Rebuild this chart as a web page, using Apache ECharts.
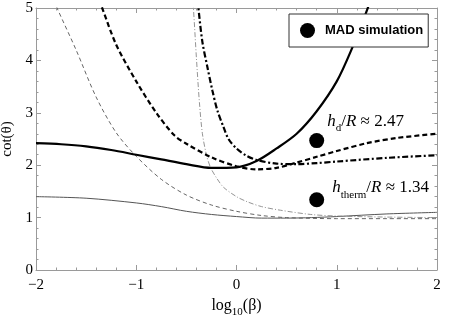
<!DOCTYPE html>
<html><head><meta charset="utf-8">
<script src="https://cdn.jsdelivr.net/npm/echarts@6/dist/echarts.min.js"></script>
<style>html,body{margin:0;padding:0;background:#fff}#c{width:463px;height:316px}</style>
</head><body><div id="c"></div>
<script>
// ---- data ----
const thickSolidX = [-2, -1.75, -1.5, -1.25, -1, -0.75, -0.5, -0.25, 0, 0.2, 0.4, 0.6, 0.8, 1.0, 1.15, 1.3, 1.4];
const thickSolidY = [2.42, 2.40, 2.36, 2.29, 2.20, 2.11, 2.02, 1.95, 1.96, 2.08, 2.32, 2.60, 3.03, 3.60, 4.22, 4.95, 5.5];

const thinSolidX = [-2, -1.5, -1, -0.75, -0.5, -0.25, 0, 0.25, 0.5, 0.75, 1, 1.5, 2];
const thinSolidY = [1.40, 1.37, 1.28, 1.21, 1.12, 1.06, 1.02, 0.99, 0.99, 1.0, 1.02, 1.07, 1.10];

const thickDashX = [-1.4, -1.34, -1.2, -1.0, -0.8, -0.62, -0.5, -0.25, 0, 0.2, 0.4, 0.6, 0.8, 1.0, 1.3, 1.6, 2];
const thickDashY = [5.3, 5.0, 4.3, 3.6, 3.0, 2.57, 2.41, 2.15, 1.98, 1.92, 1.95, 2.05, 2.16, 2.27, 2.42, 2.52, 2.6];

const thickDashDotX = [-0.4, -0.38, -0.34, -0.29, -0.24, -0.19, -0.13, -0.08, 0, 0.1, 0.2, 0.4, 0.6, 0.8, 1.0, 1.5, 2];
const thickDashDotY = [5.4, 5.0, 4.35, 3.87, 3.42, 3.04, 2.73, 2.50, 2.32, 2.18, 2.10, 2.03, 2.02, 2.04, 2.07, 2.14, 2.19];

const thinDashX = [-1.82, -1.79, -1.6, -1.4, -1.2, -1.0, -0.75, -0.5, -0.25, 0, 0.25, 0.5, 1.0, 1.5, 2];
const thinDashY = [5.15, 5.0, 4.2, 3.3, 2.62, 2.17, 1.73, 1.43, 1.24, 1.12, 1.04, 1.0, 0.98, 0.98, 0.98];

const thinDashDotX = [-0.445, -0.43, -0.40, -0.37, -0.34, -0.30, -0.26, -0.2, -0.13, 0, 0.11, 0.25, 0.44, 0.74, 1.0, 1.5, 2];
const thinDashDotY = [5.3, 5.0, 4.05, 3.2, 2.6, 2.2, 1.96, 1.76, 1.58, 1.40, 1.30, 1.21, 1.14, 1.06, 1.03, 1.01, 1.0];

const madX = [0.8, 0.8];
const madY = [2.47, 1.34];
const madLabels = ['d', 'therm'];
const legendName = 'MAD simulation';

// ---- chart ----
const zip = (xs, ys) => xs.map((x, i) => [x, ys[i]]);
const frame = '#9a9a9a';
const serif = 'Liberation Serif';
const minus = v => String(v).replace('-', '\u2212');

function mkAxis(pos, isX, showLabel, extra) {
  return Object.assign({
    type: 'value', position: pos,
    min: isX ? -2 : 0, max: isX ? 2 : 5, interval: 1,
    axisLine: { show: true, onZero: false, lineStyle: { color: frame, width: 1 } },
    axisTick: { show: true, inside: true, length: 5, lineStyle: { color: frame } },
    minorTick: { show: true, splitNumber: 5, length: 2.5, lineStyle: { color: frame } },
    splitLine: { show: false },
    axisLabel: { show: showLabel, color: '#000', fontFamily: serif, fontSize: 15, margin: isX ? 8 : 3, formatter: minus }
  }, extra || {});
}

function lineSeries(xs, ys, color, width, dash) {
  return {
    type: 'line', data: zip(xs, ys), showSymbol: false, symbol: 'none',
    smooth: 0.3, clip: true, silent: true,
    lineStyle: { color: color, width: width, type: dash || 'solid' },
    z: 3
  };
}

const labelRich = {
  i: { fontFamily: serif, fontStyle: 'italic', fontSize: 17, color: '#000', verticalAlign: 'top' },
  n: { fontFamily: serif, fontSize: 17, color: '#000', verticalAlign: 'top' },
  s: { fontFamily: serif, fontSize: 11, color: '#000', verticalAlign: 'top', padding: [10, 0, 0, 0] }
};

const madData = madX.map((x, i) => ({
  value: [x, madY[i]],
  label: {
    show: true, position: 'right',
    offset: i === 0 ? [-2, -17] : [3, -10],
    formatter: '{i|h}{s|' + madLabels[i] + '}{n|/}{i|R}{n| \u2248 ' + madY[i].toFixed(2) + '}',
    rich: labelRich
  }
}));

const option = {
  animation: false,
  backgroundColor: '#fff',
  grid: { left: 36, right: 26, top: 8, bottom: 46, containLabel: false, outerBoundsMode: 'none' },
  xAxis: [
    mkAxis('bottom', true, true, {
      name: '{a|log}{s|10}{a|(\u03b2)}', nameLocation: 'middle', nameGap: 27,
      nameTextStyle: { rich: {
        a: { fontFamily: serif, fontSize: 16, color: '#000', verticalAlign: 'top' },
        s: { fontFamily: serif, fontSize: 11, color: '#000', verticalAlign: 'top', padding: [9, 0, 0, 0] }
      } }
    }),
    mkAxis('top', true, false)
  ],
  yAxis: [
    mkAxis('left', false, true, {
      name: 'cot(\u03b8)', nameLocation: 'middle', nameGap: 14,
      nameTextStyle: { fontFamily: serif, fontSize: 15, color: '#000' }
    }),
    mkAxis('right', false, false)
  ],
  legend: {
    data: [{ name: legendName, icon: 'circle', itemStyle: { color: '#000', opacity: 1 } }],
    left: 289, top: 14, orient: 'horizontal',
    padding: [9, 5, 9, 11],
    itemWidth: 15, itemHeight: 15,
    borderColor: '#333', borderWidth: 1, backgroundColor: '#fff',
    selectedMode: false,
    textStyle: { fontFamily: 'Liberation Sans', fontWeight: 'bold', fontSize: 13, color: '#000', padding: [0, 0, 0, 5] }
  },
  series: [
    lineSeries(thinSolidX, thinSolidY, '#555', 1),
    lineSeries(thinDashX, thinDashY, '#555', 0.9, [4, 3]),
    lineSeries(thinDashDotX, thinDashDotY, '#888', 0.9, [5, 2, 1, 2]),
    lineSeries(thickDashX, thickDashY, '#000', 2.2, [5, 3]),
    lineSeries(thickDashDotX, thickDashDotY, '#000', 2.2, [6, 2.5, 2, 2.5]),
    lineSeries(thickSolidX, thickSolidY, '#000', 2.2),
    {
      name: legendName, type: 'scatter', data: madData,
      symbol: 'circle', symbolSize: 15, itemStyle: { color: '#000', opacity: 1 }, z: 5
    }
  ]
};

const chart = echarts.init(document.getElementById('c'), null, { renderer: 'canvas' });
chart.setOption(option);
</script>
</body></html>
